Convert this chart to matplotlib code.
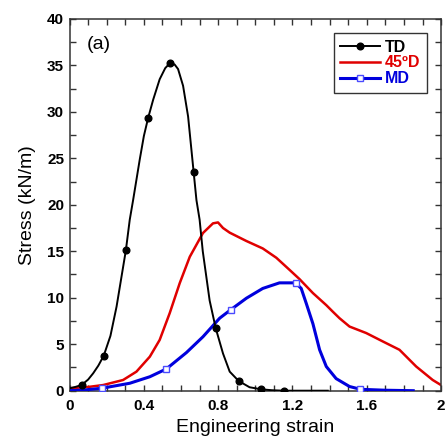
import matplotlib
matplotlib.use("Agg")
import matplotlib.pyplot as plt
from matplotlib.ticker import MultipleLocator


plt.rcParams['font.family'] = ['Liberation Sans', 'DejaVu Sans']

# TD curve (black, filled circles)
td_x = [0.0, 0.03, 0.0645, 0.1, 0.127, 0.155, 0.184, 0.22, 0.253, 0.303, 0.324, 0.342, 0.378,
        0.40, 0.423, 0.45, 0.485, 0.515, 0.539, 0.565, 0.584, 0.611, 0.638, 0.668, 0.683,
        0.70, 0.717, 0.754, 0.787, 0.826, 0.862, 0.91, 0.969, 1.032, 1.09, 1.152, 1.25, 1.39]
td_y = [0.26, 0.4, 0.61, 1.2, 1.87, 2.7, 3.77, 5.9, 9.05, 15.1, 18.4, 20.5, 24.9,
        27.4, 29.35, 31.3, 33.5, 34.7, 35.2, 35.1, 34.6, 32.8, 29.5, 23.5, 20.5,
        18.4, 15.0, 9.7, 6.7, 4.0, 2.05, 1.05, 0.37, 0.15, 0.05, 0.0, 0.0, 0.0]
td_marks = [2, 6, 9, 14, 18, 23, 28, 31, 33, 35]

# 45ºD curve (red, no markers)
d45_x = [0.0, 0.1, 0.181, 0.288, 0.36, 0.432, 0.485, 0.539, 0.593, 0.647, 0.718, 0.772,
         0.799, 0.826, 0.862, 0.952, 1.04, 1.113, 1.184, 1.238, 1.31, 1.382, 1.417, 1.453,
         1.507, 1.597, 1.686, 1.776, 1.866, 1.955, 2.0]
d45_y = [0.26, 0.4, 0.61, 1.15, 2.05, 3.66, 5.46, 8.34, 11.57, 14.4, 16.96, 18.0,
         18.1, 17.5, 17.0, 16.1, 15.3, 14.3, 13.0, 12.0, 10.5, 9.2, 8.5, 7.8,
         6.9, 6.2, 5.3, 4.4, 2.6, 1.15, 0.6]

# MD curve (blue, open squares)
md_x = [0.0, 0.08, 0.172, 0.324, 0.432, 0.521, 0.629, 0.718, 0.808, 0.867, 0.952, 1.04,
        1.13, 1.217, 1.247, 1.274, 1.31, 1.346, 1.382, 1.435, 1.507, 1.566, 1.70, 1.85]
md_y = [0.0, 0.08, 0.26, 0.8, 1.5, 2.34, 4.1, 5.8, 7.8, 8.7, 9.95, 11.0,
        11.6, 11.6, 11.0, 9.4, 7.2, 4.4, 2.6, 1.3, 0.45, 0.15, 0.05, 0.0]
md_marks = [2, 5, 9, 13, 21]


fig = plt.figure(figsize=(4.46, 4.38), dpi=100)
ax = fig.add_axes([0.156, 0.108, 0.833, 0.849])

ax.plot(d45_x, d45_y, color='#e00000', lw=1.8, label='45ºD', zorder=2,
        solid_joinstyle='round')
ax.plot(md_x, md_y, color='#0000dd', lw=2.2, marker='s', markevery=md_marks, ms=4.5,
        mfc='white', mec='#4a4aff', mew=1.0, label='MD', zorder=3, solid_joinstyle='round')
ax.plot(td_x, td_y, color='black', lw=1.4, marker='o', markevery=td_marks, ms=4.8,
        label='TD', zorder=4, solid_joinstyle='round')

ax.set_xlim(0, 2)
ax.set_ylim(0, 40)
ax.xaxis.set_major_locator(MultipleLocator(0.4))
ax.xaxis.set_minor_locator(MultipleLocator(0.1))
ax.yaxis.set_major_locator(MultipleLocator(5))
ax.yaxis.set_minor_locator(MultipleLocator(2.5))
ax.xaxis.set_major_formatter(plt.FuncFormatter(lambda v, p: '0' if v == 0 else ('%g' % v)))

ax.tick_params(which='both', direction='in', top=True, right=True, length=4,
               width=1.0, color='#333333')
ax.tick_params(axis='x', which='major', labelsize=11, pad=6)
ax.tick_params(axis='y', which='major', labelsize=11, pad=4)
for lbl in ax.get_xticklabels() + ax.get_yticklabels():
	lbl.set_fontweight('bold')
for sp in ax.spines.values():
	sp.set_linewidth(1.1)
	sp.set_color('#333333')

ax.set_xlabel('Engineering strain', fontsize=14, labelpad=4)
ax.set_ylabel('Stress (kN/m)', fontsize=14, labelpad=8)
ax.text(0.045, 0.955, '(a)', transform=ax.transAxes, fontsize=14, va='top', ha='left')

# legend order TD, 45ºD, MD
h, l = ax.get_legend_handles_labels()
order = [2, 0, 1]
leg = ax.legend([h[i] for i in order], [l[i] for i in order], loc='upper right',
                fancybox=False, framealpha=1, edgecolor='#333333', numpoints=1,
                prop={'weight': 'bold', 'size': 11.5}, handlelength=2.5,
                handletextpad=0.3, labelspacing=0.05, borderpad=0.4, borderaxespad=0.9)
leg.get_frame().set_linewidth(1.0)
for txt, col in zip(leg.get_texts(), ['black', '#e00000', '#0000dd']):
	txt.set_color(col)

fig.savefig('out.png', dpi=100)
